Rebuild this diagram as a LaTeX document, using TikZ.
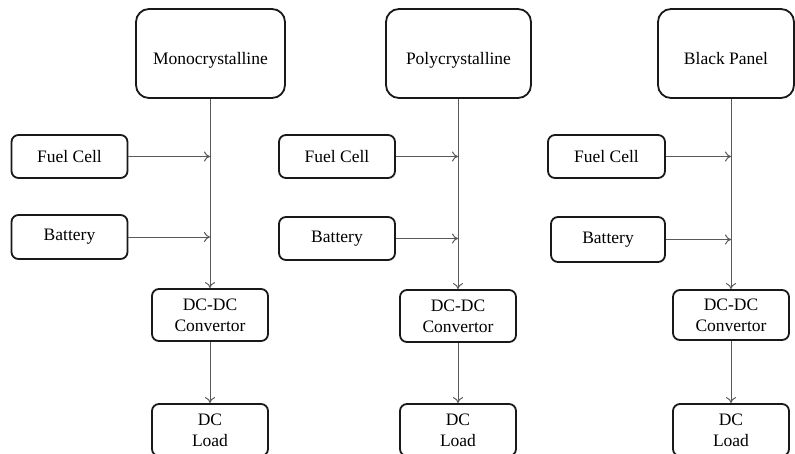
\documentclass[tikz,border=0pt]{standalone}
\usepackage{fontspec}
\setmainfont{Liberation Serif}
\usetikzlibrary{arrows.meta}
\begin{document}
\begin{tikzpicture}[x=1pt,y=-1pt,
  box/.style={draw=black!90, line width=1.8pt, rounded corners=7pt, align=center,
    font=\fontsize{17.5}{21}\selectfont, inner sep=0pt},
  bigbox/.style={box, rounded corners=13pt, minimum height=89pt, text height=23pt, text depth=1pt},
  smallbox/.style={box, minimum width=116pt, minimum height=44pt},
  twobox/.style={box, minimum width=116pt, minimum height=52pt},
  conn/.style={draw=black!65, line width=1pt, -{To[length=6pt,width=10pt]}}
]
\clip (0,0) rectangle (795,453);
\fill[white] (0,0) rectangle (795,453);

% column 1
\node[bigbox, minimum width=149pt] (mono) at (210.5,53.5) {Monocrystalline};
\node[smallbox, minimum height=43pt] (fc1) at (69.5,156.5) {Fuel Cell};
\node[smallbox] (bat1) at (69.5,237) {Battery};
\node[twobox] (dc1) at (210,315) {DC-DC\\Convertor};
\node[twobox] (load1) at (210,430) {DC\\Load};

% column 2
\node[bigbox, minimum width=145pt] (poly) at (458.5,53.5) {Polycrystalline};
\node[smallbox, minimum height=43pt] (fc2) at (337,156.5) {Fuel Cell};
\node[smallbox, minimum height=43pt] (bat2) at (337,238.5) {Battery};
\node[twobox] (dc2) at (458,316) {DC-DC\\Convertor};
\node[twobox] (load2) at (458,430) {DC\\Load};

% column 3
\node[bigbox, minimum width=136pt] (blackp) at (726,53.5) {Black Panel};
\node[smallbox, minimum height=43pt, minimum width=117pt] (fc3) at (606.5,156.5) {Fuel Cell};
\node[smallbox, minimum height=45pt, minimum width=114pt] (bat3) at (608,239.5) {Battery};
\node[twobox, minimum height=50pt] (dc3) at (731,315) {DC-DC\\Convertor};
\node[twobox] (load3) at (731,430) {DC\\Load};

% connectors
\draw[conn] (mono.south -| dc1.north) -- (dc1.north);
\draw[conn] (fc1.east) -- (fc1.east -| dc1.north);
\draw[conn] (bat1.east) -- (bat1.east -| dc1.north);
\draw[conn] (dc1.south) -- (load1.north);

\draw[conn] (poly.south -| dc2.north) -- (dc2.north);
\draw[conn] (fc2.east) -- (fc2.east -| dc2.north);
\draw[conn] (bat2.east) -- (bat2.east -| dc2.north);
\draw[conn] (dc2.south) -- (load2.north);

\draw[conn] (blackp.south -| dc3.north) -- (dc3.north);
\draw[conn] (fc3.east) -- (fc3.east -| dc3.north);
\draw[conn] (bat3.east) -- (bat3.east -| dc3.north);
\draw[conn] (dc3.south) -- (load3.north);
\end{tikzpicture}
\end{document}
